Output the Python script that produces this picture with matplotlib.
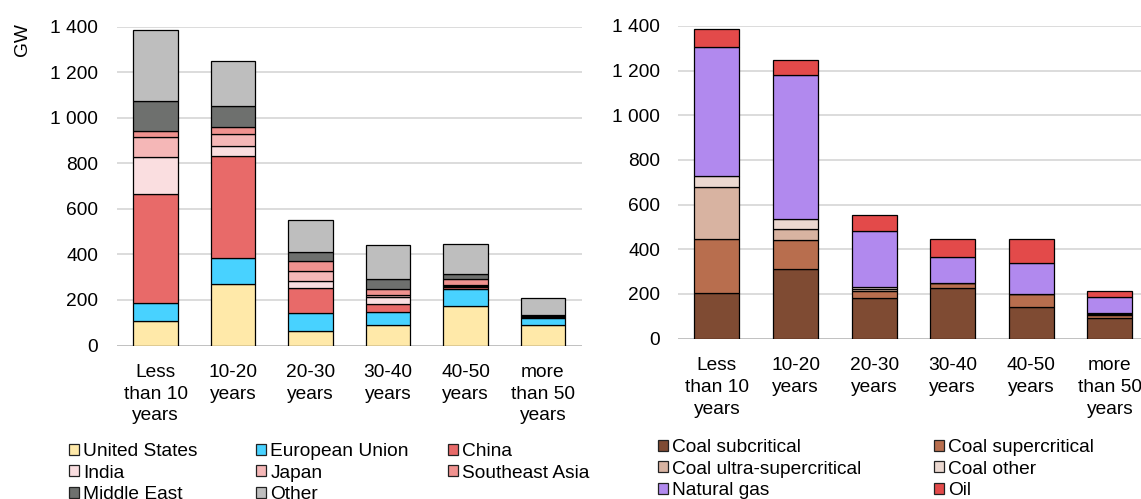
import matplotlib
matplotlib.use("Agg")
import matplotlib.pyplot as plt
from matplotlib.patches import Patch
from matplotlib.ticker import FuncFormatter, MultipleLocator
import numpy as np

plt.rcParams['font.family'] = ['Liberation Sans', 'DejaVu Sans']

categories = ["Less\nthan 10\nyears", "10-20\nyears", "20-30\nyears",
              "30-40\nyears", "40-50\nyears", "more\nthan 50\nyears"]

# Left panel: by region (GW)
region_names = ["United States", "European Union", "China", "India", "Japan",
                "Southeast Asia", "Middle East", "Other"]
us = [107, 271, 65, 90, 173, 90]
eu = [79, 111, 76, 56, 74, 32]
china = [479, 451, 110, 35, 8, 3]
india = [161, 44, 32, 30, 5, 2]
japan = [88, 51, 45, 10, 5, 2]
sea = [29, 32, 43, 25, 29, 2]
me = [130, 91, 38, 45, 19, 3]
other = [312, 196, 142, 150, 131, 76]
region_colors = ["#FFE9A9", "#48D2FF", "#E86A69", "#FADEE0", "#F5B7B7",
                 "#F0928F", "#6E706E", "#BEBEBE"]

# Right panel: by technology (GW)
tech_names = ["Coal subcritical", "Coal supercritical", "Coal ultra-supercritical",
              "Coal other", "Natural gas", "Oil"]
coal_sub = [206, 310, 180, 227, 143, 91]
coal_super = [240, 132, 35, 22, 59, 16]
coal_ultra = [231, 50, 9, 1, 0, 3]
coal_other = [52, 44, 8, 1, 0, 3]
gas = [576, 646, 250, 113, 137, 74]
oil = [82, 66, 70, 80, 108, 25]
tech_colors = ["#7F4B33", "#B86E4E", "#D8B3A1", "#EBD8D0", "#B189EE", "#E34A4A"]

W, H = 1141, 499
fig = plt.figure(figsize=(W / 100, H / 100), dpi=100)
FS = 13.8


def fmt(v, pos):
    return f"{int(v):,}".replace(",", " ")


def style_axes(ax, ypad):
    ax.set_ylim(0, 1400)
    ax.yaxis.set_major_locator(MultipleLocator(200))
    ax.yaxis.set_major_formatter(FuncFormatter(fmt))
    for s in ax.spines.values():
        s.set_visible(False)
    ax.grid(axis='y', color='#D9D9D9', linewidth=1.3, zorder=0)
    ax.set_axisbelow(True)
    ax.axhline(0, color='#BFBFBF', linewidth=2.0, zorder=1)
    ax.tick_params(axis='both', length=0, labelsize=FS, colors='black')
    ax.tick_params(axis='y', pad=ypad)
    ax.tick_params(axis='x', pad=13.5)


def stacked(ax, series, colors, width):
    x = np.arange(len(categories))
    bottom = np.zeros(len(categories))
    handles = []
    for vals, c in zip(series, colors):
        vals = np.array(vals, dtype=float)
        ax.bar(x, vals, width, bottom=bottom, color=c, edgecolor='black',
               linewidth=0.9, zorder=3)
        bottom += vals
        handles.append(Patch(facecolor=c, edgecolor='#222222', linewidth=0.9))
    ax.set_xticks(x)
    ax.set_xticklabels(categories, linespacing=1.35)
    ax.set_xlim(-0.5, len(categories) - 0.5)
    return handles


axL = fig.add_axes([116.75 / W, (H - 345.5) / H, 465 / W, 319 / H])
hL = stacked(axL, [us, eu, china, india, japan, sea, me, other], region_colors, 0.58)
style_axes(axL, 13.5)

axR = fig.add_axes([677.6 / W, (H - 338.7) / H, 471.6 / W, 312.9 / H])
hR = stacked(axR, [coal_sub, coal_super, coal_ultra, coal_other, gas, oil], tech_colors, 0.573)
style_axes(axR, 12.7)

fig.text(23 / W, 1 - 40 / H, "GW", rotation=90, ha='center', va='center', fontsize=FS)


def col_legend(handles, labels, xpx, ypx):
    fig.legend(handles, labels, loc='upper left',
               bbox_to_anchor=(xpx / W, 1 - ypx / H), frameon=False,
               fontsize=FS, handlelength=0.5, handleheight=0.5,
               handletextpad=0.25, labelspacing=0.24, borderpad=0,
               borderaxespad=0)


# Left legend: 3 columns, row-wise ordering
for ci, xpx in enumerate([69, 256, 448]):
    idx = list(range(ci, len(region_names), 3))
    col_legend([hL[i] for i in idx], [region_names[i] for i in idx], xpx, 443)

# Right legend: 2 columns
for ci, xpx in enumerate([658, 934]):
    idx = list(range(ci, len(tech_names), 2))
    col_legend([hR[i] for i in idx], [tech_names[i] for i in idx], xpx, 439)

fig.savefig("out.png", dpi=100)
